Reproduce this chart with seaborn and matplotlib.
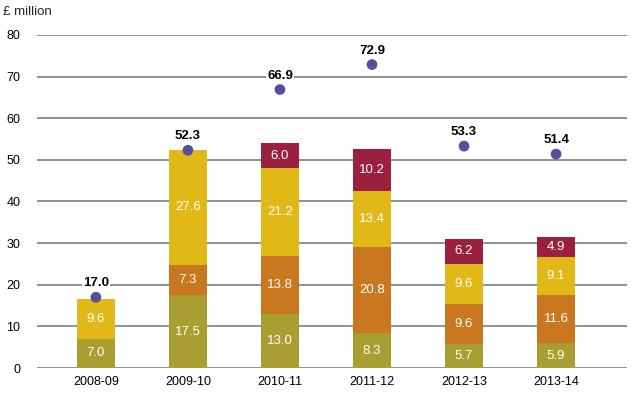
import numpy as np
import matplotlib
matplotlib.use('Agg')
import matplotlib.pyplot as plt
import seaborn as sns

years = ['2008-09', '2009-10', '2010-11', '2011-12', '2012-13', '2013-14']
olive = [7.0, 17.5, 13.0, 8.3, 5.7, 5.9]
orange = [0.0, 7.3, 13.8, 20.8, 9.6, 11.6]
yellow = [9.6, 27.6, 21.2, 13.4, 9.6, 9.1]
maroon = [0.0, 0.0, 6.0, 10.2, 6.2, 4.9]
totals = [17.0, 52.3, 66.9, 72.9, 53.3, 51.4]

series = [olive, orange, yellow, maroon]
colors = ['#a89e32', '#c97820', '#e0b817', '#9b2040']

sns.set_style('white')
plt.rcParams['font.family'] = ['Liberation Sans', 'DejaVu Sans']

fig = plt.figure(figsize=(6.31, 3.93), dpi=100)
ax = fig.add_axes([0.0586, 0.0636, 0.935, 0.8474])

for v in range(0, 90, 10):
    ax.axhline(v, color='#737373', lw=1.1, zorder=0)

bottom = np.zeros(len(years))
for vals, c in zip(series, colors):
    vals = np.array(vals)
    sns.barplot(x=years, y=vals, bottom=bottom, color=c, width=0.41,
                saturation=1, linewidth=0, edgecolor='none', ax=ax, zorder=2)
    for i, (b, v) in enumerate(zip(bottom, vals)):
        if v > 0:
            ax.text(i, b + v / 2, f'{v:.1f}', ha='center', va='center',
                    color='white', fontsize=9.5, zorder=4)
    bottom = bottom + vals

sns.scatterplot(x=years, y=totals, color='#55509a', s=60, edgecolor='none',
                ax=ax, zorder=5)
for i, t in enumerate(totals):
    ax.text(i, t + 1.9, f'{t:.1f}', ha='center', va='bottom', fontsize=9.5,
            color='black', fontweight='bold', zorder=6,
            bbox=dict(facecolor='white', edgecolor='none', pad=0.8))

ax.set_ylim(0, 80)
ax.set_xlim(-0.64, 5.77)
ax.set_yticks(range(0, 90, 10))
ax.tick_params(axis='both', length=0, labelsize=9, colors='black')
ax.tick_params(axis='y', pad=12)
ax.tick_params(axis='x', pad=6)
for s in ax.spines.values():
    s.set_visible(False)
ax.set_xlabel('')
ax.set_ylabel('')
fig.text(0.005, 0.985, '£ million', ha='left', va='top', fontsize=9.5)

fig.savefig('out.png', dpi=100)
